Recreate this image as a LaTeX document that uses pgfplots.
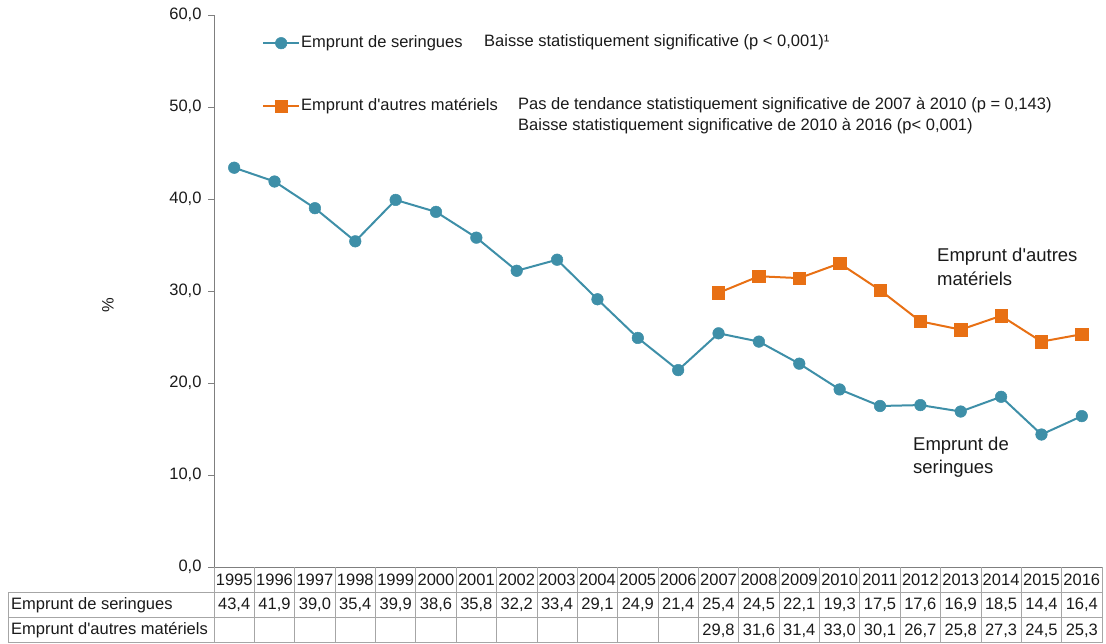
\documentclass[border=0pt]{standalone}
\usepackage{fontspec}
\setmainfont{Liberation Sans}
\usepackage{pgfplots}
\pgfplotsset{compat=1.18}
\definecolor{cblue}{HTML}{3E8FA8}
\definecolor{corange}{HTML}{E87014}
\definecolor{gridgray}{HTML}{A6A6A6}
\definecolor{axgray}{HTML}{7F7F7F}
\definecolor{txt}{HTML}{1A1A1A}
\newcommand{\apo}{\textquotesingle}
\begin{document}
\begin{tikzpicture}[font=\fontsize{16.5}{19.5}\selectfont, text=txt]
\useasboundingbox (-214pt,-76pt) rectangle (892pt,567pt);
\begin{axis}[at={(0,0)}, anchor=south west, scale only axis, width=888pt, height=552pt,
  xmin=1994.5, xmax=2016.5, ymin=0, ymax=60,
  axis x line*=bottom, axis y line*=left,
  axis line style={-, color=axgray, line width=0.8pt},
  xtick=\empty, ytick={0,10,20,30,40,50,60},
  tick align=outside, major tick length=6pt, tick style={axgray, line width=0.8pt},
  yticklabel style={xshift=-3pt, /pgf/number format/.cd, fixed, fixed zerofill, precision=1, use comma, assume math mode=true},
  ticklabel style={font=\fontsize{16.5}{19.5}\selectfont, text=txt},
  clip=false,
  legend cell align=left,
  legend style={at={(0.05405,0.96377)}, anchor=north west, draw=none, fill=none,
    inner sep=0pt, row sep=47pt, column sep=1pt,
    nodes={inner sep=0pt, text height=12pt, text depth=4pt},
    font=\fontsize{16.5}{19.5}\selectfont},
  legend image code/.code={\draw[mark repeat=2,mark phase=2] plot coordinates {(0pt,0pt) (18pt,0pt) (36pt,0pt)};},
]
\addplot[cblue, line width=2pt, mark=*, mark size=5.8pt, mark options={solid, fill=cblue, draw=cblue, line width=0.5pt}] coordinates {
(1995,43.4) (1996,41.9) (1997,39.0) (1998,35.4) (1999,39.9) (2000,38.6) (2001,35.8) (2002,32.2)
(2003,33.4) (2004,29.1) (2005,24.9) (2006,21.4) (2007,25.4) (2008,24.5) (2009,22.1) (2010,19.3)
(2011,17.5) (2012,17.6) (2013,16.9) (2014,18.5) (2015,14.4) (2016,16.4)};
\addlegendentry{Emprunt de seringues}
\addplot[corange, line width=2pt, mark=square*, mark size=6.2pt, mark options={solid, fill=corange, draw=corange, line width=0.5pt}] coordinates {
(2007,29.8) (2008,31.6) (2009,31.4) (2010,33.0) (2011,30.1) (2012,26.7) (2013,25.8) (2014,27.3) (2015,24.5) (2016,25.3)};
\addlegendentry{Emprunt d\apo autres matériels}
\end{axis}
% y label
\node[rotate=90] at (-106pt,262pt) {\%};
% annotations
\node[anchor=base west, inner sep=0pt] at (270pt,520pt) {Baisse statistiquement significative (p < 0,001)¹};
\node[anchor=base west, inner sep=0pt] at (304pt,457pt) {Pas de tendance statistiquement significative de 2007 à 2010 (p = 0,143)};
\node[anchor=base west, inner sep=0pt] at (304pt,436pt) {Baisse statistiquement significative de 2010 à 2016 (p< 0,001)};
\begin{scope}[font=\fontsize{18.5}{22}\selectfont]
\node[anchor=base west, inner sep=0pt] at (723pt,305pt) {Emprunt d\apo autres};
\node[anchor=base west, inner sep=0pt] at (723pt,281pt) {matériels};
\node[anchor=base west, inner sep=0pt] at (699pt,117pt) {Emprunt de};
\node[anchor=base west, inner sep=0pt] at (699pt,94pt) {seringues};
\end{scope}
% data table grid
\foreach \k in {0,...,22} \draw[gridgray, line width=0.8pt] ({\k*40.3636pt},0pt) -- ({\k*40.3636pt},-75.6pt);
\foreach \yy in {-25,-50,-75.6} \draw[gridgray, line width=0.8pt] (-206pt,\yy pt) -- (888pt,\yy pt);
\draw[gridgray, line width=0.8pt] (-206pt,-25pt) -- (-206pt,-75.6pt);
\node[anchor=west, inner sep=0pt] at (-203pt,-38pt) {Emprunt de seringues};
\node[anchor=west, inner sep=0pt] at (-203pt,-63.5pt) {Emprunt d\apo autres matériels};
\foreach \yr [count=\i from 0] in {1995,1996,1997,1998,1999,2000,2001,2002,2003,2004,2005,2006,2007,2008,2009,2010,2011,2012,2013,2014,2015,2016}
  \node[inner sep=0pt] at ({(\i+0.5)*40.3636pt},-12.5pt) {\yr};
\foreach \v [count=\i from 0] in {43.4,41.9,39.0,35.4,39.9,38.6,35.8,32.2,33.4,29.1,24.9,21.4,25.4,24.5,22.1,19.3,17.5,17.6,16.9,18.5,14.4,16.4}
  \node[inner sep=0pt] at ({(\i+0.5)*40.3636pt},-38pt) {\pgfmathprintnumber[fixed, fixed zerofill, precision=1, use comma, assume math mode=true]{\v}};
\foreach \v [count=\i from 12] in {29.8,31.6,31.4,33.0,30.1,26.7,25.8,27.3,24.5,25.3}
  \node[inner sep=0pt] at ({(\i+0.5)*40.3636pt},-63.5pt) {\pgfmathprintnumber[fixed, fixed zerofill, precision=1, use comma, assume math mode=true]{\v}};
\end{tikzpicture}
\end{document}
